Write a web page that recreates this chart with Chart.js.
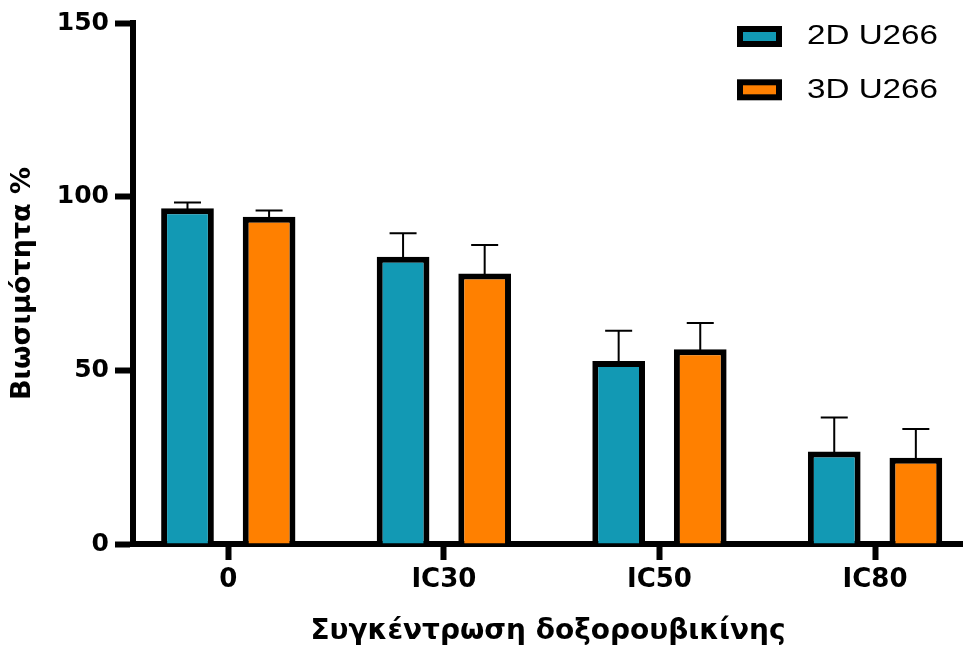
<!DOCTYPE html>
<html><head><meta charset="utf-8">
<script src="https://cdn.jsdelivr.net/npm/chart.js@4"></script>
<style>html,body{margin:0;padding:0;background:#fff;overflow:hidden}canvas{display:block}</style>
</head><body>
<canvas id="c" width="963" height="650"></canvas>
<script>
const categories = ['0', 'IC30', 'IC50', 'IC80'];
const seriesNames = ['2D U266', '3D U266'];
const series2D = [96.7, 82.7, 52.7, 26.6];
const series3D = [94.2, 77.9, 56.1, 24.8];
const error2D = [1.6, 6.8, 8.7, 9.8];
const error3D = [1.8, 8.2, 7.5, 8.3];
const yTicks = [0, 50, 100, 150];
const xTitle = 'Συγκέντρωση δοξορουβικίνης';
const yTitle = 'Βιωσιμότητα %';
const colors = ['#1299B4', '#FF8000'];

Chart.defaults.font.family = '"DejaVu Sans", sans-serif';
Chart.defaults.color = '#000';

function toPoints(vals) { return categories.map((c, i) => ({ x: i, y: vals[i] })); }

const errorBars = {
  id: 'errorBars',
  beforeDatasetsDraw(chart) {
    const ctx = chart.ctx, ys = chart.scales.y;
    chart.data.datasets.forEach((ds, di) => {
      const meta = chart.getDatasetMeta(di);
      meta.data.forEach((bar, i) => {
        const up = ys.getPixelForValue(ds.data[i].y + ds.errors[i]);
        ctx.save();
        ctx.strokeStyle = '#000'; ctx.lineWidth = 2;
        ctx.beginPath();
        ctx.moveTo(bar.x, bar.y + 3); ctx.lineTo(bar.x, up);
        ctx.moveTo(bar.x - 13.5, up); ctx.lineTo(bar.x + 13.5, up);
        ctx.stroke();
        ctx.restore();
      });
    });
  }
};

const customLegend = {
  id: 'customLegend',
  afterDraw(chart) {
    const ctx = chart.ctx;
    chart.data.datasets.forEach((ds, i) => {
      const bx = 737, by = 26 + i * 53.3, bw = 45, bh = 21;
      ctx.save();
      ctx.fillStyle = '#000';
      ctx.fillRect(bx, by, bw, bh);
      ctx.fillStyle = ds.backgroundColor;
      ctx.fillRect(bx + 6, by + 6, bw - 12, bh - 12);
      ctx.font = '27px "Liberation Sans", Arial, sans-serif';
      ctx.textBaseline = 'middle';
      ctx.textAlign = 'left';
      const w = ctx.measureText(ds.label).width;
      ctx.translate(807, by + bh / 2 + 0.5);
      ctx.scale(131 / w, 1);
      ctx.fillStyle = '#000';
      ctx.fillText(ds.label, 0, 0);
      ctx.restore();
    });
  }
};

new Chart(document.getElementById('c'), {
  type: 'bar',
  data: {
    datasets: [
      { label: seriesNames[0], data: toPoints(series2D), errors: error2D, backgroundColor: colors[0], borderColor: '#000', borderWidth: 6, borderSkipped: 'start' },
      { label: seriesNames[1], data: toPoints(series3D), errors: error3D, backgroundColor: colors[1], borderColor: '#000', borderWidth: 6, borderSkipped: 'start' }
    ]
  },
  options: {
    responsive: false,
    animation: false,
    devicePixelRatio: 1,
    categoryPercentage: 0.757,
    barPercentage: 0.646,
    layout: { padding: { top: 23, left: 0, right: 0, bottom: 0 } },
    plugins: { legend: { display: false }, tooltip: { enabled: false } },
    scales: {
      x: {
        type: 'linear',
        offset: false,
        min: -0.442,
        max: 3.408,
        afterBuildTicks(scale) { scale.ticks = categories.map((c, i) => ({ value: i })); },
        afterFit(scale) { scale.height = 106; },
        ticks: {
          includeBounds: false,
          stepSize: 1,
          padding: 5,
          font: { size: 26, weight: 'bold' },
          color: '#000',
          maxRotation: 0,
          autoSkip: false,
          callback: (v) => categories[v] !== undefined ? categories[v] : ''
        },
        grid: { offset: false, drawOnChartArea: false, drawTicks: true, tickLength: 16, tickWidth: 6, tickColor: '#000' },
        border: { display: true, width: 6, color: '#000' },
        title: { display: true, text: xTitle, font: { size: 28, weight: 'bold' }, color: '#000', padding: { top: 0, bottom: 1 } }
      },
      y: {
        min: 0,
        max: 150,
        afterBuildTicks(scale) { scale.ticks = yTicks.map(v => ({ value: v })); },
        afterFit(scale) { scale.width = 133; },
        ticks: { stepSize: 50, padding: 6, font: { size: 25, weight: 'bold' }, color: '#000' },
        grid: { drawOnChartArea: false, drawTicks: true, tickLength: 18, tickWidth: 6, tickColor: '#000' },
        border: { display: true, width: 6, color: '#000' },
        title: { display: true, text: yTitle, font: { size: 27, weight: 'bold' }, color: '#000', padding: { top: 7, bottom: 0 } }
      }
    }
  },
  plugins: [errorBars, customLegend]
});
</script>
</body></html>
